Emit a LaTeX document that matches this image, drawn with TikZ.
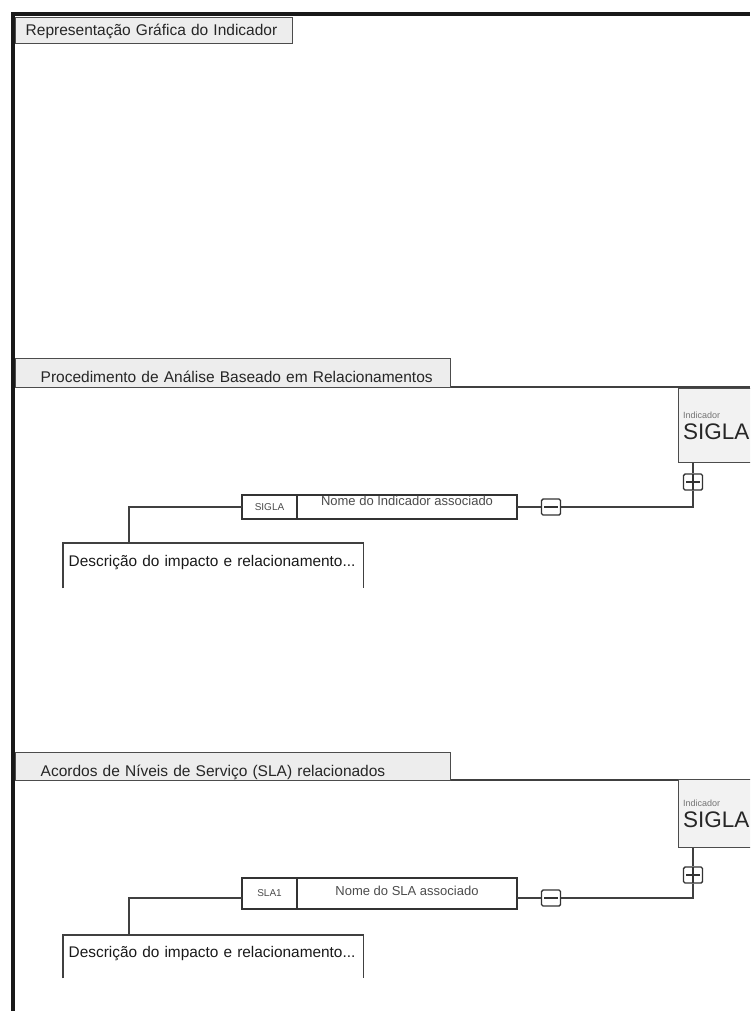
\documentclass[tikz,border=0pt]{standalone}
\usepackage{fontspec}
\setmainfont{Liberation Sans}
\usetikzlibrary{positioning}

\begin{document}
\begin{tikzpicture}[x=1pt,y=-1pt,line width=1.4pt,
lnk/.style={draw=black!75},
frame/.style={draw=black!90,line width=4pt},
secline/.style={draw=black!75,line width=2pt},
tab/.style={draw=black!70,fill=black!7,anchor=north west,inner ysep=0pt,align=left,text=black!85,font=\fontsize{15.5}{17}\selectfont},
indbox/.style={draw=black!70,fill=black!5,anchor=north west,minimum width=95pt,inner xsep=4pt,text width=86pt,align=left,text=black!85},
sigla/.style={draw=black!80,fill=white,anchor=north west,minimum width=55pt,inner sep=0pt,outer sep=0pt,text=black!70,font=\fontsize{10}{11}\selectfont},
nome/.style={draw=black!80,fill=white,minimum width=220pt,inner sep=0pt,outer sep=0pt,text=black!70,font=\fontsize{13}{14}\selectfont},
desc/.style={anchor=north west,minimum width=299pt,text width=289pt,align=left,inner xsep=5pt,inner ysep=0pt,text=black!90,font=\fontsize{15.4}{17}\selectfont},
toggle/.style={draw=black!80,minimum width=19pt,minimum height=16pt,inner sep=0pt,rounded corners=1.5pt},
minus/.style={toggle,path picture={\draw[line width=2.2pt,black!80] ([xshift=-7pt]path picture bounding box.center) -- ([xshift=7pt]path picture bounding box.center);}},
plus/.style={toggle,path picture={\draw[line width=2.2pt,black!80] ([xshift=-7pt]path picture bounding box.center) -- ([xshift=7pt]path picture bounding box.center);
  \draw[black!80] ([yshift=-9pt]path picture bounding box.center) -- ([yshift=9pt]path picture bounding box.center);}}]
\useasboundingbox (0,0) rectangle (750,1011);
\clip (0,0) rectangle (750,1011);

% moldura
\draw[frame] (13,1011) -- (13,14) -- (750,14);
\node[tab,minimum height=26pt,inner xsep=10pt,text width=257pt,text height=18pt,text depth=8pt] (tab1) at (15,17) {Representação Gráfica do Indicador};

% procedimento de analise
\draw[secline] (15,387) -- (750,387);
\node[tab,minimum height=29pt,inner xsep=25pt,text width=385pt,text height=24pt,text depth=5pt] (tab2) at (15,358) {\mbox{Procedimento de Análise Baseado em Relacionamentos}};
\node[indbox,minimum height=74pt] (ind2) at (678,388) {{\fontsize{9}{9}\selectfont\color{black!55}Indicador}\\[4pt]{\fontsize{22.5}{22.5}\selectfont SIGLA}};
\node[plus] (exp2) at (693,482) {};
\coordinate (c2) at (693,507);
\node[minus] (min2) at (551,507) {};
\node[sigla,minimum height=24pt] (sig2) at (242,495) {SIGLA};
\node[nome,minimum height=24pt,text height=10pt,text depth=14pt,right=0pt of sig2] (nom2) {Nome do Indicador associado};
\node[desc,minimum height=44pt,text height=22.5pt,text depth=21.5pt] (desc2) at (63,543) {Descrição do impacto e relacionamento...};
\coordinate (k2) at (129,543);
\draw[lnk] (exp2 |- ind2.south) -- (exp2);
\draw[lnk] (exp2) -- (c2) -- (min2.east);
\draw[lnk] (min2.west) -- (min2.west -| nom2.east);
\draw[lnk] (sig2.west |- min2) -| (k2);
\draw[lnk] (desc2.south west) -- (desc2.north west) -- (desc2.north east) -- (desc2.south east);

% acordos de niveis de servico
\draw[secline] (15,780) -- (750,780);
\node[tab,minimum height=28pt,inner xsep=25pt,text width=385pt,text height=24pt,text depth=4pt] (tab3) at (15,752) {\mbox{Acordos de Níveis de Serviço (SLA) relacionados}};
\node[indbox,minimum height=68pt] (ind3) at (678,779) {{\fontsize{9}{9}\selectfont\color{black!55}Indicador}\\[4pt]{\fontsize{22.5}{22.5}\selectfont SIGLA}};
\node[plus] (exp3) at (693,875) {};
\coordinate (c3) at (693,898);
\node[minus] (min3) at (551,898) {};
\node[sigla,minimum height=31pt] (sig3) at (242,878) {SLA1};
\node[nome,minimum height=31pt,text height=17pt,text depth=14pt,right=0pt of sig3] (nom3) {Nome do SLA associado};
\node[desc,minimum height=42pt,text height=22pt,text depth=20pt] (desc3) at (63,935) {Descrição do impacto e relacionamento...};
\coordinate (k3) at (129,935);
\draw[lnk] (exp3 |- ind3.south) -- (exp3);
\draw[lnk] (exp3) -- (c3) -- (min3.east);
\draw[lnk] (min3.west) -- (min3.west -| nom3.east);
\draw[lnk] (sig3.west |- min3) -| (k3);
\draw[lnk] (desc3.south west) -- (desc3.north west) -- (desc3.north east) -- (desc3.south east);
\end{tikzpicture}
\end{document}
